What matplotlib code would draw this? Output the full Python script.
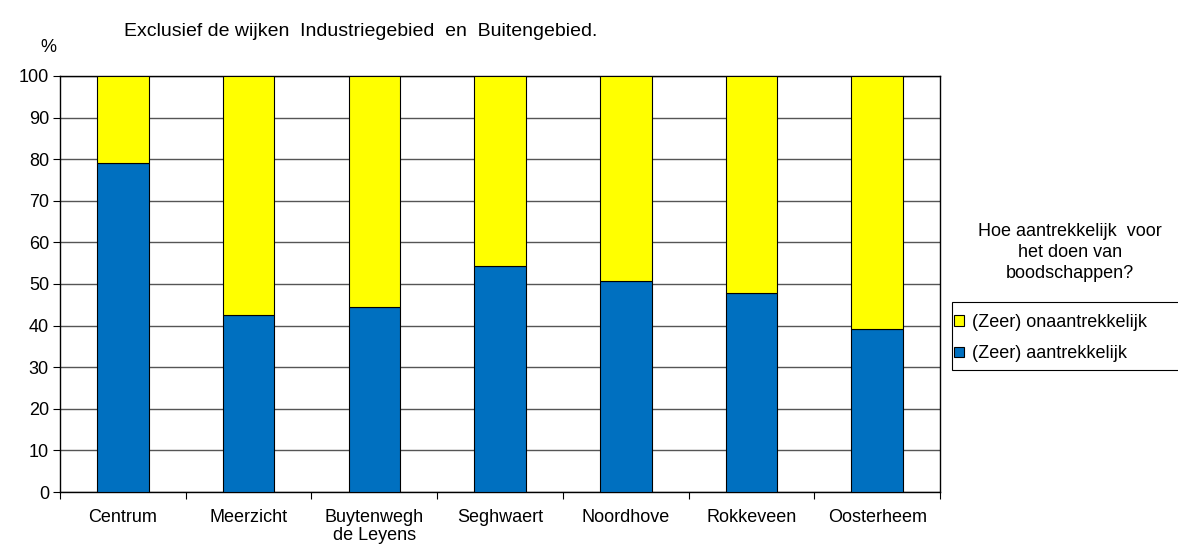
import numpy as np
import matplotlib.pyplot as plt
from matplotlib.patches import Patch, Rectangle

plt.rcParams['font.family'] = ['Liberation Sans', 'DejaVu Sans']

wijken = ['Centrum', 'Meerzicht', 'Buytenwegh\nde Leyens', 'Seghwaert',
          'Noordhove', 'Rokkeveen', 'Oosterheem']
aantrekkelijk = [79.0, 42.5, 44.4, 54.3, 50.7, 47.9, 39.2]
onaantrekkelijk = [100 - v for v in aantrekkelijk]
yticks = list(range(0, 101, 10))

blauw = '#0070C0'
geel = '#FFFF00'
fs = 13

fig = plt.figure(figsize=(11.78, 5.45), dpi=100)
ax = fig.add_axes([0.051, 0.0972, 0.747, 0.7634])

x = np.arange(len(wijken))
ax.bar(x, aantrekkelijk, width=0.41, color=blauw, edgecolor='black', linewidth=0.8, zorder=3)
ax.bar(x, onaantrekkelijk, width=0.41, bottom=aantrekkelijk, color=geel,
       edgecolor='black', linewidth=0.8, zorder=3)

ax.set_xlim(-0.5, len(wijken) - 0.5)
ax.set_ylim(0, 100)
ax.set_yticks(yticks)
ax.set_xticks(x)
ax.set_xticklabels(wijken, fontsize=fs, linespacing=1.1)
ax.set_xticks(np.arange(-0.5, len(wijken)), minor=True)
ax.tick_params(axis='x', which='major', length=0, pad=12)
ax.tick_params(axis='x', which='minor', length=5, color='black', width=0.8)
ax.tick_params(axis='y', length=5, width=0.8, labelsize=fs, pad=3)
ax.grid(axis='y', color='#555555', linewidth=1.0, zorder=0)
for s in ax.spines.values():
    s.set_color('black')
    s.set_linewidth(1.0)

fig.text(0.105, 0.942, 'Exclusief de wijken  Industriegebied  en  Buitengebied.',
         fontsize=14, va='center')
fig.text(0.034, 0.913, '%', fontsize=fs, va='center')

fig.text(0.908, 0.536, 'Hoe aantrekkelijk  voor\nhet doen van\nboodschappen?',
         fontsize=fs, ha='center', va='center', linespacing=1.3)

# legendakader loopt door tot buiten de rechterrand
fig.patches.append(Rectangle((952 / 1178, 1 - 370 / 545), 0.25, 68 / 545,
                             transform=fig.transFigure, facecolor='white',
                             edgecolor='black', linewidth=0.8, zorder=1))
handles = [Patch(facecolor=geel, edgecolor='black', linewidth=0.8),
           Patch(facecolor=blauw, edgecolor='black', linewidth=0.8)]
leg = fig.legend(handles, ['(Zeer) onaantrekkelijk', '(Zeer) aantrekkelijk'],
                 loc='upper left', bbox_to_anchor=(0.810, 0.424), fontsize=fs,
                 handlelength=0.55, handleheight=0.55, handletextpad=0.45,
                 borderpad=0.0, labelspacing=0.8, frameon=False, borderaxespad=0)

fig.savefig('out.png', dpi=100)
